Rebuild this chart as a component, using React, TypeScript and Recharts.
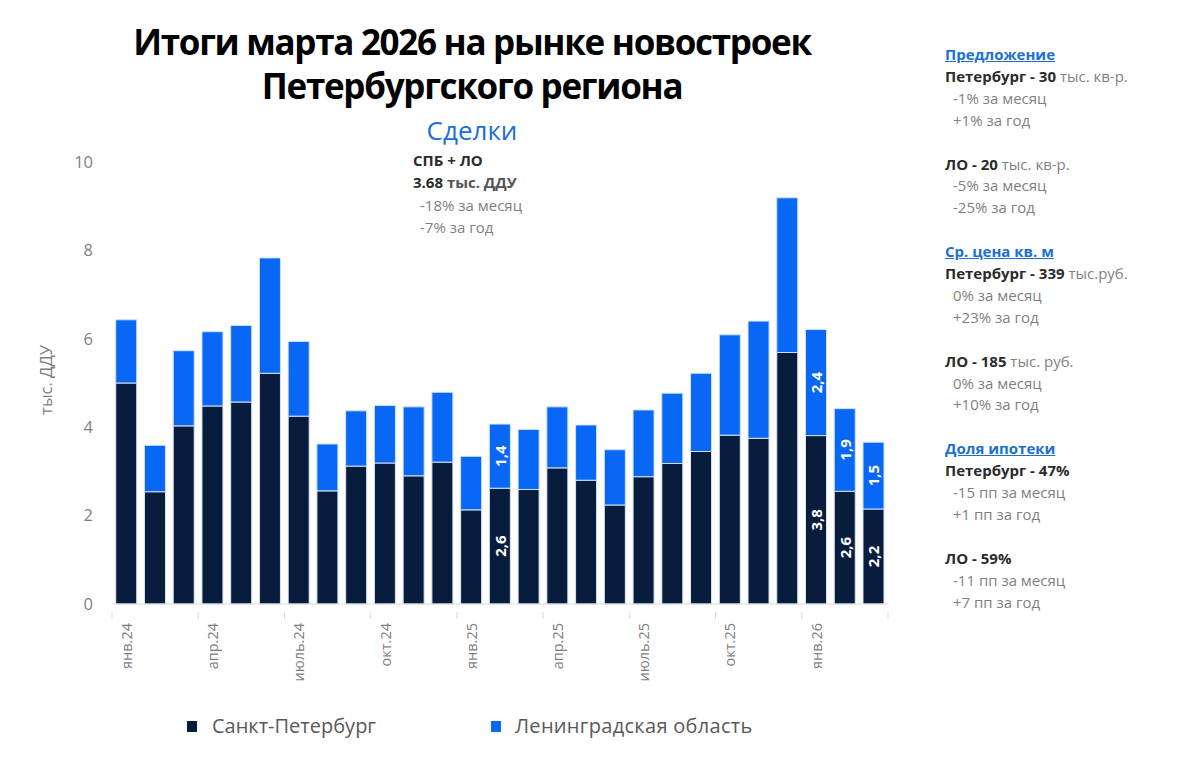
import React from 'react';
import { BarChart, Bar, XAxis, YAxis, LabelList } from 'recharts';

// месяцы янв.24 – мар.26
const months = [
  'янв.24', 'фев.24', 'мар.24', 'апр.24', 'май.24', 'июнь.24', 'июль.24', 'авг.24', 'сен.24',
  'окт.24', 'ноя.24', 'дек.24', 'янв.25', 'фев.25', 'мар.25', 'апр.25', 'май.25', 'июнь.25',
  'июль.25', 'авг.25', 'сен.25', 'окт.25', 'ноя.25', 'дек.25', 'янв.26', 'фев.26', 'мар.26',
];

// тыс. ДДУ
const spb = [
  5.0, 2.54, 4.03, 4.48, 4.57, 5.22, 4.25, 2.56, 3.12, 3.19, 2.9, 3.21, 2.13, 2.62,
  2.59, 3.08, 2.8, 2.24, 2.88, 3.18, 3.45, 3.82, 3.75, 5.69, 3.81, 2.55, 2.15,
];
const lo = [
  1.43, 1.05, 1.7, 1.68, 1.73, 2.61, 1.69, 1.06, 1.25, 1.3, 1.56, 1.58, 1.21, 1.45,
  1.36, 1.38, 1.25, 1.25, 1.51, 1.59, 1.77, 2.27, 2.65, 3.5, 2.4, 1.87, 1.51,
];

// подписи внутри столбцов (только для отдельных месяцев)
const spbLabels: Record<number, string> = { 13: '2,6', 24: '3,8', 25: '2,6', 26: '2,2' };
const loLabels: Record<number, string> = { 13: '1,4', 24: '2,4', 25: '1,9', 26: '1,5' };

const yTicks = [0, 2, 4, 6, 8, 10];

const NAVY = '#081d3e';
const BLUE = '#0867f5';
const GRAY = '#7f7f7f';
const DARK = '#2b2b2b';
const HEAD = '#1b6fd6';
const FONT = '"Open Sans", "Noto Sans", sans-serif';

const data = months.map((m, i) => ({
  month: m,
  spb: spb[i],
  lo: lo[i],
  spbLabel: spbLabels[i],
  loLabel: loLabels[i],
}));

const CHART_W = 920;
const MARGIN = { top: 162, right: 32, bottom: 100, left: 32 };
const Y_W = 80;
const BAND = (CHART_W - MARGIN.left - MARGIN.right - Y_W) / months.length;

const XTick = (props: any) => {
  const { x, y, payload, index } = props;
  const left = x - BAND / 2;
  return (
    <g>
      <line x1={left} x2={left} y1={y} y2={y + 7} stroke="#d9d9d9" />
      {index === 8 && (
        <line x1={x + BAND * 2.5} x2={x + BAND * 2.5} y1={y} y2={y + 7} stroke="#d9d9d9" />
      )}
      <text
        transform={`translate(${x},${y + 11}) rotate(-90)`}
        textAnchor="end"
        dominantBaseline="central"
        fontSize={14.5}
        fill={GRAY}
        fontFamily={FONT}
      >
        {payload.value}
      </text>
    </g>
  );
};

const InBarLabel = (props: any) => {
  const { x, y, width, height, value } = props;
  if (!value) return null;
  const cx = x + width / 2;
  const cy = y + height / 2;
  return (
    <text
      x={cx}
      y={cy}
      transform={`rotate(-90, ${cx}, ${cy})`}
      textAnchor="middle"
      dominantBaseline="central"
      fill="#ffffff"
      fontWeight={700}
      fontSize={15}
      fontFamily={FONT}
    >
      {value}
    </text>
  );
};

const YLabel = (props: any) => {
  const { viewBox } = props;
  const cy = viewBox.y + viewBox.height / 2 - 3;
  return (
    <text
      x={45}
      y={cy}
      transform={`rotate(-90, 45, ${cy})`}
      textAnchor="middle"
      dominantBaseline="central"
      fontSize={16.5}
      fill={GRAY}
      fontFamily={FONT}
    >
      тыс. ДДУ
    </text>
  );
};

const sideBlocks = [
  { head: 'Предложение', rows: [['Петербург - 30', ' тыс. кв-р.', '-1% за месяц', '+1% за год'], ['ЛО - 20', ' тыс. кв-р.', '-5% за месяц', '-25% за год']] },
  { head: 'Ср. цена кв. м', rows: [['Петербург - 339', ' тыс.руб.', '0% за месяц', '+23% за год'], ['ЛО - 185', ' тыс. руб.', '0% за месяц', '+10% за год']] },
  { head: 'Доля ипотеки', rows: [['Петербург - 47%', '', '-15 пп за месяц', '+1 пп за год'], ['ЛО - 59%', '', '-11 пп за месяц', '+7 пп за год']] },
];

const LINE = 21.9;

export default function App() {
  return (
    <div
      style={{
        position: 'absolute',
        left: 0,
        top: 0,
        width: 1200,
        height: 784,
        background: '#ffffff',
        fontFamily: FONT,
        overflow: 'hidden',
      }}
    >
      <div
        style={{
          position: 'absolute',
          left: 0,
          top: 20,
          width: 944,
          textAlign: 'center',
          fontSize: 35,
          fontWeight: 700,
          lineHeight: '44px',
          color: '#000',
          letterSpacing: -1.3,
        }}
      >
        Итоги марта 2026 на рынке новостроек
        <br />
        Петербургского региона
      </div>
      <div
        style={{
          position: 'absolute',
          left: 0,
          top: 112,
          width: 944,
          textAlign: 'center',
          fontSize: 26,
          lineHeight: '36px',
          color: HEAD,
        }}
      >
        Сделки
      </div>

      <div style={{ position: 'absolute', left: 413, top: 149, fontSize: 15, lineHeight: '22.4px', whiteSpace: 'pre' }}>
        <div style={{ fontWeight: 700, color: DARK }}>СПБ + ЛО</div>
        <div style={{ fontWeight: 700, color: DARK }}>
          3.68 <span style={{ color: '#555' }}>тыс. ДДУ</span>
        </div>
        <div style={{ color: GRAY, paddingLeft: 7 }}>-18% за месяц</div>
        <div style={{ color: GRAY, paddingLeft: 7 }}>-7% за год</div>
      </div>

      <div style={{ position: 'absolute', left: 945, top: 44, fontSize: 15, lineHeight: `${LINE}px`, whiteSpace: 'pre' }}>
        {sideBlocks.map((b) => (
          <div key={b.head}>
            <div style={{ fontWeight: 700, color: HEAD, textDecoration: 'underline' }}>{b.head}</div>
            {b.rows.map((r, ri) => (
              <div key={ri} style={{ marginBottom: ri === 0 || b.head !== 'Доля ипотеки' ? LINE : 0 }}>
                <div>
                  <span style={{ fontWeight: 700, color: DARK }}>{r[0]}</span>
                  <span style={{ color: GRAY }}>{r[1]}</span>
                </div>
                <div style={{ color: GRAY, paddingLeft: 8 }}>{r[2]}</div>
                <div style={{ color: GRAY, paddingLeft: 8 }}>{r[3]}</div>
              </div>
            ))}
          </div>
        ))}
      </div>

      <div style={{ position: 'absolute', left: 0, top: 0 }}>
        <BarChart width={CHART_W} height={784} data={data} margin={MARGIN} barCategoryGap="13%">
          <XAxis
            dataKey="month"
            interval={2}
            height={80}
            axisLine={{ stroke: '#d9d9d9' }}
            tickLine={false}
            tick={<XTick />}
          />
          <YAxis
            width={Y_W}
            domain={[0, 10]}
            ticks={yTicks}
            axisLine={false}
            tickLine={false}
            tickSize={0}
            tickMargin={19}
            tick={{ fill: GRAY, fontSize: 16.5, fontFamily: FONT }}
            label={<YLabel />}
          />
          <Bar dataKey="spb" stackId="a" fill={NAVY} stroke="#dbe5f3" strokeWidth={1} isAnimationActive={false}>
            <LabelList dataKey="spbLabel" content={<InBarLabel />} />
          </Bar>
          <Bar dataKey="lo" stackId="a" fill={BLUE} stroke="#cfe0f8" strokeWidth={1} isAnimationActive={false}>
            <LabelList dataKey="loLabel" content={<InBarLabel />} />
          </Bar>
        </BarChart>
      </div>

      <div style={{ position: 'absolute', left: 187, top: 711, display: 'flex', alignItems: 'center', fontSize: 20, color: '#595959', lineHeight: '30px' }}>
        <span style={{ width: 10, height: 11, background: NAVY, display: 'inline-block', marginRight: 15 }} />
        <span style={{ width: 279 }}>Санкт-Петербург</span>
        <span style={{ width: 10, height: 11, background: BLUE, display: 'inline-block', marginRight: 14 }} />
        <span style={{ letterSpacing: 0.3 }}>Ленинградская область</span>
      </div>
    </div>
  );
}
